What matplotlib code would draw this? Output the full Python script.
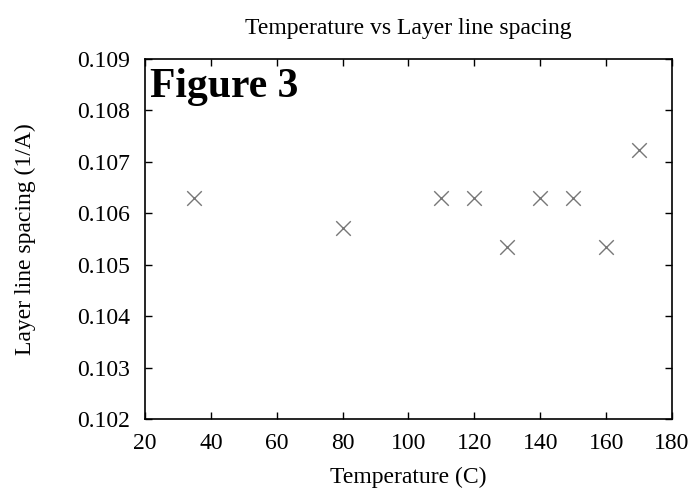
import matplotlib
matplotlib.use('Agg')
import matplotlib.pyplot as plt

plt.rcParams['font.family'] = ['Liberation Serif', 'DejaVu Serif']

# data
temperature = [35, 80, 110, 120, 130, 140, 150, 160, 170]
spacing = [0.10630, 0.10572, 0.10630, 0.10630, 0.10535, 0.10630, 0.10630, 0.10535, 0.10724]

fig = plt.figure(figsize=(6.94, 4.92), dpi=100)
ax = fig.add_axes([0.2089, 0.1484, 0.7594, 0.7317])

ax.scatter(temperature, spacing, marker='x', s=110, color='#777777', linewidths=1.0)

ax.set_xlim(20, 180)
ax.set_ylim(0.102, 0.109)
ax.set_xticks(range(20, 181, 20))
ax.set_yticks([0.102, 0.103, 0.104, 0.105, 0.106, 0.107, 0.108, 0.109])
ax.set_yticklabels(['0.102', '0.103', '0.104', '0.105', '0.106', '0.107', '0.108', '0.109'])
ax.tick_params(direction='in', top=True, right=True, length=5, width=1, labelsize=17)
ax.tick_params(axis='y', pad=11)
ax.tick_params(axis='x', pad=10)
for s in ax.spines.values():
    s.set_linewidth(1.2)

ax.set_xlabel('Temperature (C)', fontsize=17, labelpad=9)
ax.set_ylabel('Layer line spacing (1/A)', fontsize=17, labelpad=29)
ax.set_title('Temperature vs Layer line spacing', fontsize=17, pad=18)
ax.text(0.01, 0.975, 'Figure 3', transform=ax.transAxes, fontsize=30, fontweight='bold',
        va='top', ha='left')

fig.savefig('out.png', dpi=100)
